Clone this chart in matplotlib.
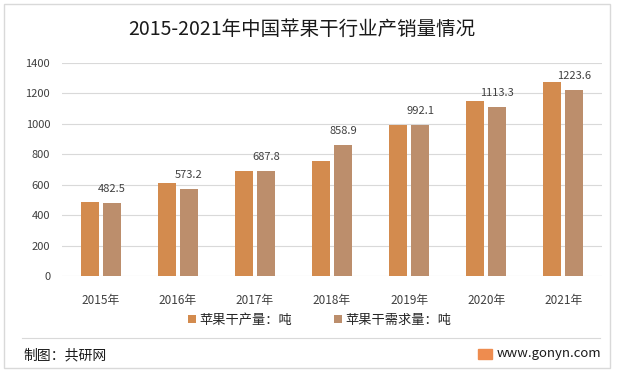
import numpy as np
import matplotlib.pyplot as plt
from matplotlib.patches import Rectangle
from matplotlib.lines import Line2D

plt.rcParams['font.family'] = ['Noto Sans CJK SC', 'DejaVu Sans']

# data
years = ['2015年', '2016年', '2017年', '2018年', '2019年', '2020年', '2021年']
production = [487, 612, 691, 757, 990, 1152, 1277]
demand = [482.5, 573.2, 687.8, 858.9, 992.1, 1113.3, 1223.6]
series_names = ['苹果干产量：吨', '苹果干需求量：吨']
colors = ['#D38B4E', '#BC8E6C']

W, H = 617, 374
fig = plt.figure(figsize=(W / 100, H / 100), dpi=100)
ax = fig.add_axes([62 / W, 1 - 276 / H, 540 / W, 213 / H])

x = np.arange(len(years))
w = 0.234
off = 0.143
ax.bar(x - off, production, w, color=colors[0], label=series_names[0], zorder=3)
ax.bar(x + off, demand, w, color=colors[1], label=series_names[1], zorder=3)

# value labels only on the demand series
for xi, v in zip(x, demand):
    ax.annotate(f'{v:.1f}', (xi + off, v), xytext=(0, 10),
                textcoords='offset points', ha='center', va='center',
                fontsize=8, color='#404040')

ax.set_xlim(-0.5, len(years) - 0.5)
ax.set_ylim(0, 1400)
ax.set_yticks(range(0, 1401, 200))
ax.set_xticks(x)
ax.set_xticklabels(years)
ax.tick_params(axis='both', length=0, labelcolor='#404040')
ax.tick_params(axis='y', pad=8.5, labelsize=8)
ax.tick_params(axis='x', pad=13, labelsize=8.5)
ax.grid(axis='y', color='#D9D9D9', linewidth=0.8, zorder=0)
for s in ax.spines.values():
    s.set_visible(False)

fig.text(302 / W, 1 - 29 / H, '2015-2021年中国苹果干行业产销量情况', ha='center',
         va='center', fontsize=14, color='#1a1a1a')

leg = fig.legend(loc='center', bbox_to_anchor=(320 / W, 1 - 320 / H), ncol=2,
                 frameon=False, fontsize=9.5, handlelength=0.55, handleheight=0.55,
                 handletextpad=0.3, columnspacing=3.2)
for t in leg.get_texts():
    t.set_color('#262626')

# outer frame, separator and footer
fig.patches.append(Rectangle((4 / W, 1 - 368 / H), 606 / W, 364 / H,
                             transform=fig.transFigure, fill=False,
                             edgecolor='#D9D9D9', linewidth=1))
fig.lines.append(Line2D([22 / W, 600 / W], [1 - 338 / H, 1 - 338 / H],
                        transform=fig.transFigure, color='#D9D9D9', linewidth=0.8))
fig.text(23 / W, 1 - 355 / H, '制图：共研网', fontsize=10, va='center', color='#1a1a1a')
fig.patches.append(Rectangle((478 / W, 1 - 359 / H), 14 / W, 10 / H,
                             transform=fig.transFigure, color='#EE8C4F'))
fig.text(497 / W, 1 - 354 / H, 'www.gonyn.com', fontsize=9.5, va='center',
         color='#1a1a1a')

fig.savefig('out.png', dpi=100)
